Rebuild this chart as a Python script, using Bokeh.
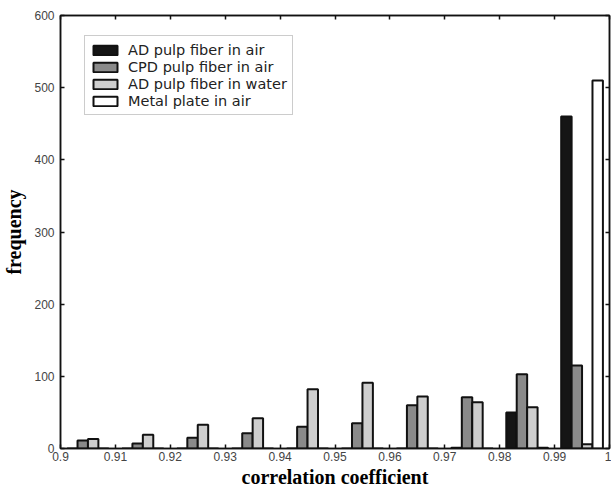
from bokeh.plotting import figure
from bokeh.models import Range1d, FixedTicker, LinearAxis, Legend, LegendItem
from bokeh.embed import file_html
from bokeh.resources import INLINE

# ---- data ----
bin_centers = [0.905, 0.915, 0.925, 0.935, 0.945, 0.955, 0.965, 0.975, 0.985, 0.995]
ad_pulp_air = [0, 0, 0, 0, 0, 0, 0, 1, 50, 460]
cpd_pulp_air = [11, 7, 15, 21, 30, 35, 60, 71, 103, 115]
ad_pulp_water = [13, 19, 33, 42, 82, 91, 72, 64, 57, 6]
metal_plate_air = [0, 0, 0, 0, 0, 0, 0, 0, 1, 510]
series_names = ["AD pulp fiber in air", "CPD pulp fiber in air",
                "AD pulp fiber in water", "Metal plate in air"]
x_ticks = [0.9, 0.91, 0.92, 0.93, 0.94, 0.95, 0.96, 0.97, 0.98, 0.99, 1.0]
x_tick_labels = ["0.9", "0.91", "0.92", "0.93", "0.94", "0.95", "0.96", "0.97", "0.98", "0.99", "1"]
y_ticks = [0, 100, 200, 300, 400, 500, 600]

series = [ad_pulp_air, cpd_pulp_air, ad_pulp_water, metal_plate_air]
fills = ["#151515", "#8a8a8a", "#cecece", "#ffffff"]

p = figure(width=611, height=491, output_backend="svg", toolbar_location=None,
           x_range=Range1d(0.9, 1.0), y_range=Range1d(0, 600),
           min_border_left=60, min_border_right=2, min_border_top=15, min_border_bottom=43)
p.background_fill_color = "white"
p.border_fill_color = "white"
p.xgrid.visible = False
p.ygrid.visible = False
p.outline_line_color = "#111111"
p.outline_line_width = 1.5

bar_w = 0.0019
renderers = []
for i, (vals, col) in enumerate(zip(series, fills)):
    xs = [c + (i - 1.5) * bar_w for c in bin_centers]
    r = p.vbar(x=xs, top=vals, bottom=0, width=bar_w, fill_color=col,
               line_color="#111111", line_width=2)
    renderers.append(r)

tick_font = "Liberation Sans"
xa = p.xaxis[0]
xa.ticker = FixedTicker(ticks=x_ticks)
xa.major_label_overrides = {t: l for t, l in zip(x_ticks, x_tick_labels)}
ya = p.yaxis[0]
ya.ticker = FixedTicker(ticks=y_ticks)
for ax in (xa, ya):
    ax.major_tick_in = 4
    ax.major_tick_out = 0
    ax.minor_tick_line_color = None
    ax.axis_line_color = "#111111"
    ax.axis_line_width = 1.5
    ax.major_tick_line_color = "#111111"
    ax.major_tick_line_width = 1.5
    ax.major_label_text_font = tick_font
    ax.major_label_text_color = "#444444"
    ax.axis_label_text_font = "Liberation Serif"
    ax.axis_label_text_font_style = "bold"
    ax.axis_label_text_font_size = "20px"
    ax.axis_label_text_color = "#000000"
xa.major_label_text_font_size = "12px"
xa.major_label_standoff = 3
xa.axis_label = "correlation coefficient"
xa.axis_label_standoff = 2
ya.major_label_text_font_size = "12px"
ya.major_label_standoff = 6
ya.axis_label = "frequency"
ya.axis_label_standoff = 6

for loc, ticks in (("above", x_ticks), ("right", y_ticks)):
    ax = LinearAxis(ticker=FixedTicker(ticks=ticks))
    ax.major_label_text_font_size = "0px"
    ax.major_label_standoff = 0
    ax.major_label_overrides = {t: "" for t in ticks}
    ax.major_tick_in = 4
    ax.major_tick_out = 0
    ax.minor_tick_line_color = None
    ax.axis_line_color = "#111111"
    ax.axis_line_width = 1.5
    ax.major_tick_line_color = "#111111"
    ax.major_tick_line_width = 1.5
    p.add_layout(ax, loc)

legend = Legend(items=[LegendItem(label=n, renderers=[r]) for n, r in zip(series_names, renderers)],
                location=(24, 333))
legend.glyph_width = 30
legend.glyph_height = 12
legend.label_height = 17
legend.spacing = 0
legend.padding = 5
legend.margin = 0
legend.label_standoff = 8
legend.label_text_font = "DejaVu Sans"
legend.label_text_font_size = "14.5px"
legend.label_text_color = "#222222"
legend.border_line_color = "#999999"
legend.border_line_width = 1.5
legend.background_fill_color = "white"
p.add_layout(legend, "center")

open("out.html", "w").write(file_html(p, INLINE))
